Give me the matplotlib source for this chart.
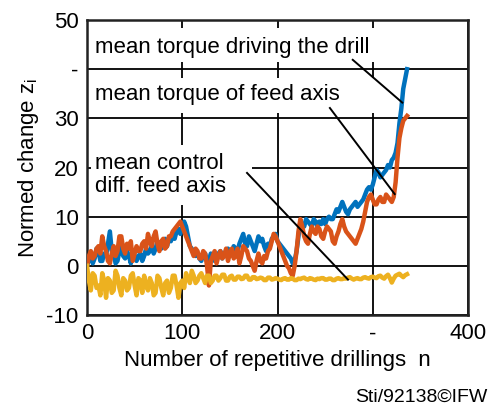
import numpy as np
import matplotlib
matplotlib.use("Agg")
import matplotlib.pyplot as plt
from matplotlib.patches import Rectangle

plt.rcParams['font.family'] = ['Liberation Sans', 'DejaVu Sans']
plt.rcParams['mathtext.fontset'] = 'custom'
plt.rcParams['mathtext.rm'] = 'Liberation Sans'

# number of repetitive drillings (sampled every 2)
n = np.arange(0, 337, 2)

# mean torque driving the drill (blue)
torque_drill = [0, 1.5, 2.5, 0.5, 1.5, 3.5, 3, 1, 1, 2.5,
                2, 4.5, 7, 3, 2.5, 0.5, 1, 3, 4, 2,
                1.5, 3, 2, 0.5, 3, 2, 1, 2, 2.5, 1,
                2, 3.5, 2.5, 3, 4, 2.5, 3.5, 5, 4, 3.5,
                5, 5.5, 4, 5.5, 5, 6.5, 5.5, 7, 7.5, 6.5,
                8, 9, 8, 6, 4, 3.5, 2.5, 2, 2.5, 1.5,
                1, 2.5, 2.5, 1, 1, 2.5, 1.5, 1, 2, 2.5,
                3, 1.5, 2.5, 3, 3.5, 2, 2.5, 4, 3.5, 3,
                4.5, 5.5, 6.5, 4.5, 4, 6, 5, 4, 3, 4.5,
                6, 5, 5.5, 4, 3, 4.5, 4, 5.5, 6, 6.5,
                5, 4.5, 4, 3.5, 3, 2.5, 2, 1.5, 0.5, 1,
                3, 6, 9, 8.5, 8, 9.5, 9, 8.5, 8, 9.5,
                9, 8, 9, 8.5, 9.5, 8.5, 9.5, 10, 9.5, 9.5,
                10.5, 11.5, 11, 12, 13, 12, 11, 10.5, 11.5, 12,
                12.5, 13, 12, 12.5, 13, 13.5, 14.5, 15.5, 16, 15.5,
                16.5, 18, 19.5, 19, 18, 18.5, 19, 19.5, 20.5, 20,
                21.5, 22, 23, 25, 29, 32, 36, 38, 40]

# mean torque of feed axis (orange)
torque_feed = [0, 2, 3, 1.5, 2, 3.5, 4, 2.5, 6, 4,
               3, 1, 0.5, 2.5, 4, 2, 3, 6, 6, 3.5,
               2.5, 4.5, 3.5, 5, 1, 2.5, 4, 3, 3, 4.5,
               5, 3.5, 6.5, 5, 4, 6, 7, 4.5, 3, 5,
               5.5, 3.5, 4, 6, 6, 7, 7.5, 8, 8.5, 9,
               8, 7, 6, 5, 4, 3, 2, 3.5, 3, 1.5,
               1.5, 3, 2.5, 0, -4, 1, 2, 3, 0.5, 2,
               3, 1.5, 2, 3.5, 1, 2.5, 3.5, 1.5, 2, 3.5,
               0.5, 2, 4, 3.5, 3, 1.5, 1, 0, -1, 1,
               2.5, 1, 0.5, 2, 1.5, 3, 3.5, 5, 6.5, 6,
               5, 4, 3, 2, 1, 0, -0.5, -1.5, -2, 0,
               3, 7, 9.5, 8, 6, 5, 4.5, 6.5, 8, 7,
               6.5, 8, 7.5, 6, 5.5, 7, 8, 7.5, 7, 5,
               4.5, 6, 7, 8.5, 9.5, 8, 7, 6.5, 6, 5.5,
               5, 4.5, 5.5, 6.5, 7.5, 9, 11, 13, 14, 14.5,
               13.5, 12.5, 12.5, 13.5, 14, 13, 13, 14.5, 14, 13.5,
               13, 14, 17, 22, 26, 28, 29.5, 30, 30.5]

# mean control difference feed axis (yellow)
ctrl_diff = [0, -3, -5, -1.5, -2, -4.5, -4, -6, -1.5, -3,
             -6.5, -2.5, -3, -5.5, -5, -1, -2, -4.5, -6, -2.5,
             -3, -5, -4.5, -2, -1.5, -4, -6, -2.5, -3, -5.5,
             -2, -4, -5, -2.5, -3.5, -6, -5.5, -2, -2.5, -4.5,
             -6, -3.5, -3, -5.5, -4.5, -2, -2, -4, -6.5, -3.5,
             -3, -4.5, -1.5, -2.5, -3.5, -1, -2, -3.5, -3, -2,
             -1.5, -2.5, -3.5, -2, -2, -3.5, -3, -2, -2, -3,
             -2.5, -1.8, -1.8, -3, -3, -2.2, -2, -2.8, -2.8, -2.2,
             -2.2, -2.7, -2.6, -2, -2, -2.8, -2.8, -2.3, -2.3, -2.7,
             -2.6, -2.4, -2.5, -2.9, -2.9, -2.4, -2.4, -2.8, -2.7, -2.5,
             -2.6, -2.8, -2.9, -2.6, -2.5, -2.8, -2.8, -2.5, -2.6, -2.9,
             -2.9, -2.6, -2.7, -2.5, -2.4, -2.7, -2.8, -2.5, -2.6, -2.8,
             -2.9, -2.6, -2.7, -2.5, -2.5, -2.8, -2.8, -2.6, -2.6, -2.9,
             -2.9, -2.6, -2.5, -2.7, -2.7, -2.5, -2.6, -2.4, -2.3, -2.6,
             -2.8, -2.6, -2.5, -2.7, -2.7, -2.4, -2.3, -2.5, -2.6, -2.3,
             -2.2, -2.4, -2.5, -2.1, -2.0, -2.4, -2.6, -2.1, -1.8, -2.5,
             -3.4, -2.6, -2.0, -1.8, -1.6, -2.0, -2.3, -1.9, -1.7]

xticks = [0, 100, 200, 300, 400]
xticklabels = ['0', '100', '200', '-', '400']
yticks = [-10, 0, 10, 20, 30, 40, 50]
yticklabels = ['-10', '0', '10', '20', '30', '-', '50']

fig = plt.figure(figsize=(4.93, 4.09), dpi=100)
ax = fig.add_axes([0.1765, 0.2298, 0.7728, 0.7213])

ax.plot(n, torque_drill, color='#0072BD', lw=3.2, zorder=3)
ax.plot(n, torque_feed, color='#D95319', lw=3.2, zorder=3)
ax.plot(n, ctrl_diff, color='#EDB120', lw=3.2, zorder=3)

ax.set_xlim(0, 400)
ax.set_ylim(-10, 50)
ax.set_xticks(xticks)
ax.set_xticklabels(xticklabels)
ax.set_yticks(yticks)
ax.set_yticklabels(yticklabels)
ax.tick_params(length=0, labelsize=16, pad=6)
ax.grid(True, color='black', lw=1.3)
ax.set_axisbelow(True)
for s in ax.spines.values():
    s.set_linewidth(1.8)
    s.set_color('#222222')

# white masks behind the label texts
for (x0, y0, w, h) in [(0.003, 0.858, 0.767, 0.115),
                       (0.003, 0.685, 0.767, 0.118),
                       (0.0105, 0.373, 0.4225, 0.203)]:
    ax.add_patch(Rectangle((x0, y0), w, h, transform=ax.transAxes,
                           facecolor='white', edgecolor='none', zorder=1.5))

ax.text(8.4, 43.3, 'mean torque driving the drill', fontsize=16, zorder=4)
ax.text(8.4, 33.7, 'mean torque of feed axis', fontsize=16, zorder=4)
ax.text(8.4, 15.0, 'mean control\ndiff. feed axis', fontsize=16, zorder=4,
        linespacing=1.15)

# leader lines
ax.plot([279, 331], [41.9, 33.2], color='black', lw=1.4, zorder=4)
ax.plot([255, 323], [32.1, 14.6], color='black', lw=1.4, zorder=4)
ax.plot([168, 274], [18.9, -2.8], color='black', lw=1.4, zorder=4)

ax.set_xlabel('Number of repetitive drillings  n', fontsize=16, labelpad=4)
ax.set_ylabel('Normed change z$_\\mathregular{i}$', fontsize=16, labelpad=4)

fig.text(0.988, 0.018, 'Sti/92138\u00a9IFW', fontsize=14, ha='right', va='baseline')

fig.savefig('out.png', dpi=100)
